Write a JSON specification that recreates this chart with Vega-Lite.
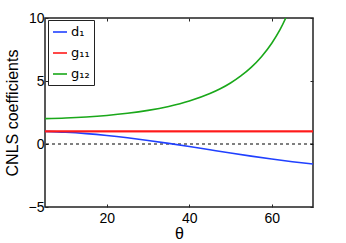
{
  "$schema": "https://vega.github.io/schema/vega-lite/v6.json",
  "width": 268,
  "height": 189,
  "autosize": {"type": "none"},
  "padding": {"left": 45, "top": 18, "right": 33, "bottom": 36},
  "background": "white",
  "config": {
    "font": "Liberation Sans",
    "view": {"stroke": "#222222", "strokeWidth": 1.5},
    "axis": {
      "domainColor": "#262626",
      "tickColor": "#262626",
      "tickSize": -3,
      "labelFontSize": 14,
      "labelColor": "black",
      "titleFontSize": 16,
      "titleFontWeight": "normal",
      "titleColor": "black",
      "grid": false
    }
  },
  "resolve": {"axis": {"x": "independent", "y": "independent"}},
  "layer": [
    {
      "data": {"values": [{"zero": 0}]},
      "mark": {"type": "rule", "color": "black", "strokeDash": [3, 3], "strokeWidth": 1},
      "encoding": {
        "y": {"field": "zero", "type": "quantitative", "scale": {"domain": [-5, 10], "nice": false}, "axis": null}
      }
    },
    {
      "data": {
        "values": [
          {"theta": 5, "value": 1.0, "series": "d₁"},
          {"theta": 10, "value": 0.933, "series": "d₁"},
          {"theta": 15, "value": 0.824, "series": "d₁"},
          {"theta": 20, "value": 0.676, "series": "d₁"},
          {"theta": 25, "value": 0.494, "series": "d₁"},
          {"theta": 30, "value": 0.283, "series": "d₁"},
          {"theta": 35, "value": 0.049, "series": "d₁"},
          {"theta": 40, "value": -0.2, "series": "d₁"},
          {"theta": 45, "value": -0.457, "series": "d₁"},
          {"theta": 50, "value": -0.714, "series": "d₁"},
          {"theta": 55, "value": -0.963, "series": "d₁"},
          {"theta": 60, "value": -1.197, "series": "d₁"},
          {"theta": 65, "value": -1.408, "series": "d₁"},
          {"theta": 70, "value": -1.59, "series": "d₁"},
          {"theta": 5, "value": 1.0, "series": "g₁₁"},
          {"theta": 70, "value": 1.0, "series": "g₁₁"},
          {"theta": 5, "value": 2.015, "series": "g₁₂"},
          {"theta": 10, "value": 2.062, "series": "g₁₂"},
          {"theta": 15, "value": 2.144, "series": "g₁₂"},
          {"theta": 20, "value": 2.265, "series": "g₁₂"},
          {"theta": 25, "value": 2.435, "series": "g₁₂"},
          {"theta": 30, "value": 2.667, "series": "g₁₂"},
          {"theta": 35, "value": 2.981, "series": "g₁₂"},
          {"theta": 40, "value": 3.408, "series": "g₁₂"},
          {"theta": 45, "value": 4.0, "series": "g₁₂"},
          {"theta": 47.5, "value": 4.38, "series": "g₁₂"},
          {"theta": 50, "value": 4.84, "series": "g₁₂"},
          {"theta": 52.5, "value": 5.4, "series": "g₁₂"},
          {"theta": 55, "value": 6.079, "series": "g₁₂"},
          {"theta": 57.5, "value": 6.93, "series": "g₁₂"},
          {"theta": 60, "value": 8.0, "series": "g₁₂"},
          {"theta": 62, "value": 9.07, "series": "g₁₂"},
          {"theta": 63.4, "value": 10.0, "series": "g₁₂"},
          {"theta": 65, "value": 11.2, "series": "g₁₂"}
        ]
      },
      "mark": {"type": "line", "strokeWidth": 1.6, "clip": true, "interpolate": "monotone"},
      "encoding": {
        "x": {
          "field": "theta", "type": "quantitative",
          "scale": {"domain": [5, 70], "nice": false, "zero": false},
          "axis": {"values": [20, 40, 60], "title": "θ", "titlePadding": 0, "labelPadding": 7, "domain": false}
        },
        "y": {
          "field": "value", "type": "quantitative",
          "scale": {"domain": [-5, 10], "nice": false},
          "axis": {"values": [-5, 0, 5, 10], "title": "CNLS coefficients", "titlePadding": 8, "labelPadding": 4, "domain": false}
        },
        "color": {
          "field": "series", "type": "nominal",
          "scale": {"domain": ["d₁", "g₁₁", "g₁₂"], "range": ["#2040ff", "#ff1a1a", "#1aa81a"]},
          "legend": {
            "title": null,
            "orient": "none",
            "legendX": 3,
            "legendY": 2,
            "strokeColor": "#222222",
            "fillColor": "white",
            "padding": 4,
            "symbolType": "stroke",
            "symbolSize": 196,
            "symbolStrokeWidth": 1.6,
            "labelFontSize": 13,
            "labelFont": "DejaVu Sans",
            "labelColor": "black",
            "labelOffset": 3,
            "rowPadding": 6
          }
        }
      }
    },
    {
      "data": {"values": [{"theta": 5, "value": 1.0, "series": "g₁₁"}, {"theta": 70, "value": 1.0, "series": "g₁₁"}]},
      "mark": {"type": "line", "strokeWidth": 1.6, "color": "#ff1a1a"},
      "encoding": {
        "x": {"field": "theta", "type": "quantitative", "scale": {"domain": [5, 70], "nice": false, "zero": false},
          "axis": {"orient": "top", "values": [20, 40, 60], "labels": false, "title": null, "domain": false}},
        "y": {"field": "value", "type": "quantitative", "scale": {"domain": [-5, 10], "nice": false},
          "axis": {"orient": "right", "values": [-5, 0, 5, 10], "labels": false, "title": null, "domain": false}}
      }
    }
  ]
}
